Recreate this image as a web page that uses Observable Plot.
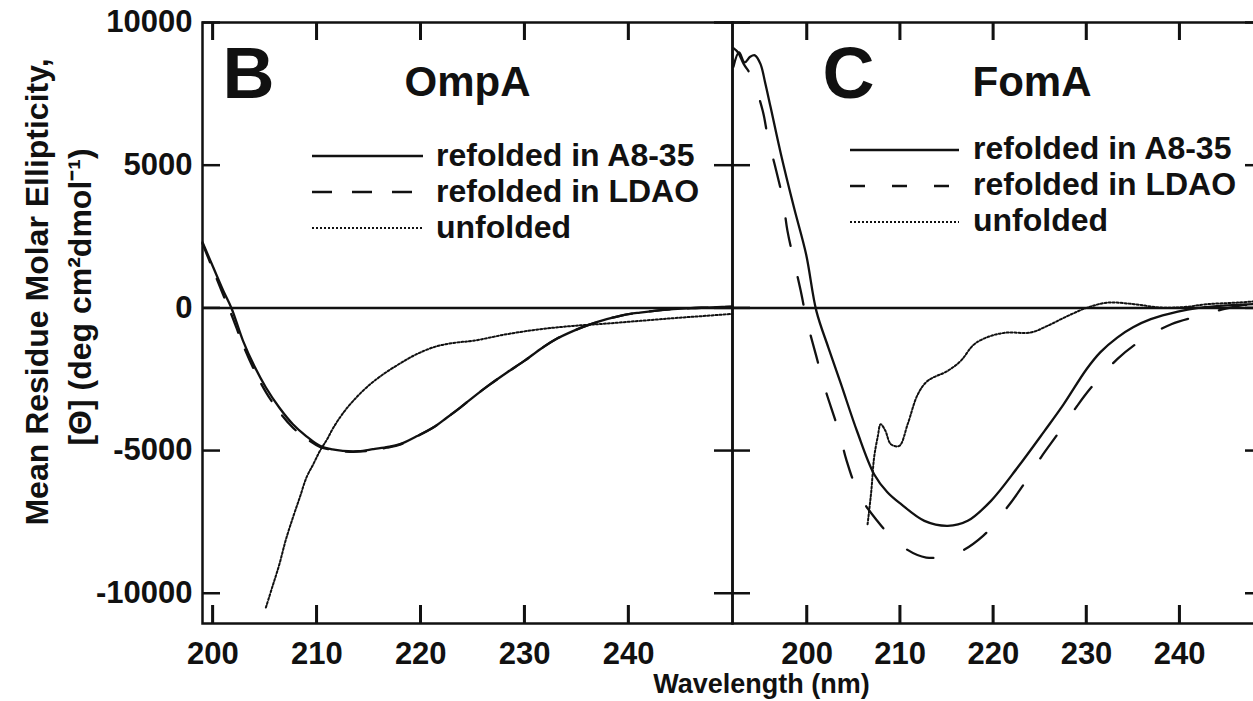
<!DOCTYPE html>
<html><head><meta charset="utf-8">
<script src="https://cdn.jsdelivr.net/npm/d3@7"></script>
<script src="https://cdn.jsdelivr.net/npm/@observablehq/plot@0.6"></script>
<style>
html,body{margin:0;padding:0;background:#fff;}
#wrap{position:relative;width:1253px;height:701px;overflow:hidden;background:#fff;}
#wrap svg{position:absolute;left:0;top:0;}
</style></head><body><div id="wrap"></div>
<script>
// ---------- data ----------
const yTicks = [-10000, -5000, 0, 5000, 10000];
const xTicks = [200, 210, 220, 230, 240];
const seriesNames = ["refolded in A8-35", "refolded in LDAO", "unfolded"];
const yLabel1 = "Mean Residue Molar Ellipticity,";
const yLabel2 = "[\u0398] (deg cm\u00B2dmol\u207B\u00B9)";
const xLabel = "Wavelength (nm)";

// Panel B: OmpA
const ompaA835Wl = [199.0, 200.0, 201.0, 201.8, 202.9, 204.0, 205.1, 206.4, 207.7, 209.0, 210.3, 211.5, 212.5, 214.0, 215.4, 216.7, 218.0, 219.6, 221.2, 222.5, 223.8, 225.0, 226.6, 228.3, 230.0, 231.5, 233.0, 234.7, 236.3, 237.9, 239.5, 241.1, 242.7, 244.3, 246.0, 247.5, 249.0, 250.0];
const ompaA835Val = [2300, 1450, 600, -20, -1156, -2050, -2790, -3500, -4077, -4500, -4835, -4960, -5010, -5020, -4953, -4880, -4777, -4500, -4193, -3850, -3493, -3142, -2700, -2266, -1850, -1448, -1100, -806, -580, -397, -250, -163, -95, -47, -10, 10, 30, 40];
const ompaLdaoWl = [199.0, 200.0, 201.0, 201.8, 202.9, 204.0, 205.1, 206.4, 207.7, 209.0, 210.3, 211.5, 212.5, 214.0, 215.4, 216.7, 218.0, 219.6, 221.2, 222.5, 223.8, 225.0, 226.6, 228.3, 230.0, 231.5, 233.0, 234.7, 236.3, 237.9, 239.5, 241.1, 242.7, 244.3, 246.0, 247.5, 249.0, 250.0];
const ompaLdaoVal = [2250, 1350, 450, -250, -1300, -2200, -2950, -3650, -4200, -4580, -4870, -4980, -5030, -5040, -4990, -4900, -4790, -4510, -4193, -3850, -3493, -3142, -2700, -2266, -1850, -1448, -1100, -806, -580, -397, -250, -163, -95, -47, -10, 10, 30, 40];
const ompaUnfWl = [205.1, 205.7, 206.4, 207.0, 207.7, 208.4, 209.0, 209.7, 210.3, 211.0, 211.6, 212.5, 213.5, 214.9, 216.4, 218.0, 219.6, 221.5, 223.4, 225.0, 228.3, 231.5, 234.7, 237.9, 241.1, 244.3, 247.0, 250.0];
const ompaUnfVal = [-10500, -9800, -8981, -8150, -7347, -6600, -5946, -5450, -5010, -4600, -4194, -3700, -3259, -2750, -2324, -1950, -1623, -1350, -1215, -1156, -922, -747, -631, -549, -455, -361, -290, -210];

// Panel C: FomA
const fomaA835Wl = [192.1, 192.7, 193.3, 193.9, 194.4, 195.0, 195.5, 196.1, 197.2, 198.6, 199.9, 201.0, 202.3, 203.65, 205.4, 207.2, 208.6, 210.1, 212.6, 215.1, 217.25, 219.75, 222.6, 225.5, 227.5, 230.0, 231.5, 233.3, 235.0, 236.9, 239.8, 242.0, 244.0, 246.0, 249.0];
const fomaA835Val = [8450, 8950, 8600, 8800, 8850, 8550, 7900, 7018, 5385, 3515, 1880, -105, -1400, -2674, -4350, -5828, -6450, -6879, -7463, -7638, -7463, -6762, -5596, -4310, -3400, -2150, -1550, -1040, -680, -396, -129, 0, 60, 100, 150];
const fomaLdaoWl = [192.1, 192.6, 193.2, 194.0, 195.25, 195.8, 196.7, 197.4, 197.9, 198.6, 199.4, 199.9, 201.0, 202.0, 203.0, 203.65, 204.2, 205.6, 207.4, 209.9, 212.8, 216.2, 218.9, 221.2, 223.15, 225.1, 226.9, 229.0, 230.5, 233.3, 235.8, 239.1, 242.1, 244.5, 246.5, 249.0];
const fomaLdaoVal = [9100, 8950, 8550, 8130, 6900, 5967, 4800, 3809, 2698, 1647, 480, -340, -1700, -2900, -3900, -4600, -5300, -6550, -7404, -8280, -8748, -8574, -7989, -7113, -6237, -5245, -4425, -3434, -2793, -1798, -1156, -572, -280, -60, 80, 150];
const fomaUnfWl = [206.5, 206.9, 207.2, 207.6, 207.9, 208.4, 209.0, 209.9, 210.8, 211.9, 212.95, 215.1, 216.5, 217.96, 219.75, 221.5, 224.0, 225.8, 228.0, 230.1, 232.3, 235.1, 238.0, 240.5, 243.0, 246.2, 249.0];
const fomaUnfVal = [-7580, -6412, -5245, -4500, -4077, -4300, -4777, -4835, -4077, -3024, -2558, -2207, -1857, -1272, -981, -865, -865, -631, -280, 10, 185, 130, 10, 30, 130, 185, 250];

// ---------- helpers ----------
const zip = (wl, v) => wl.map((x, i) => ({x, y: v[i]}));
const FONT = "'Liberation Sans', Arial, Helvetica, sans-serif";
const INK = "#111";
const H = 701, MT = 22, MB = 78;
const TL = 18;
const yDomain = [-11060, 10000];
const frameH = H - MT - MB;

function makePanel(o) {
  const common = {stroke: INK, strokeWidth: 2.5};
  const frameW = o.width - o.marginLeft - o.marginRight;
  const marks = [
    Plot.ruleY([0], common),
    Plot.line(o.solid, {x: "x", y: "y", stroke: INK, strokeWidth: 2.3, curve: "catmull-rom"}),
    Plot.line(o.dashed, {x: "x", y: "y", stroke: INK, strokeWidth: 2.3, strokeDasharray: o.dash, curve: "catmull-rom"}),
    Plot.line(o.dotted, {x: "x", y: "y", stroke: INK, strokeWidth: 2, strokeDasharray: "2,2", curve: "catmull-rom"}),
    Plot.ruleX(xTicks, {...common, insetTop: frameH - TL}),
    Plot.ruleX(xTicks, {...common, insetBottom: frameH - TL}),
    Plot.ruleY(yTicks, {...common, insetRight: frameW - TL}),
    Plot.ruleY(yTicks, {...common, insetLeft: frameW - TL}),
    Plot.frame(common),
    Plot.axisX(xTicks, {tickSize: 0, tickPadding: 18, tickFormat: d => String(d), label: null, fontSize: 31, fill: INK}),
    Plot.text([o.letter], {text: d => d, frameAnchor: "top-left", textAnchor: "start", lineAnchor: "middle", dx: o.letterDx, dy: 52, fontSize: 72, fontWeight: "bold", fill: INK}),
    Plot.text([o.title], {text: d => d, frameAnchor: "top-left", textAnchor: "start", lineAnchor: "middle", dx: o.titleDx, dy: 60, fontSize: 42, fontWeight: "bold", fill: INK}),
    ...(o.extra || [])
  ];
  return Plot.plot({
    width: o.width, height: H,
    marginLeft: o.marginLeft, marginRight: o.marginRight, marginTop: MT, marginBottom: MB,
    x: {domain: o.xDomain, axis: null},
    y: {domain: yDomain, axis: null},
    style: {fontFamily: FONT, fontWeight: "bold", fontSize: "31px", background: "transparent", overflow: "visible", maxWidth: "none"},
    marks
  });
}

const plotB = makePanel({
  width: 1253, marginLeft: 202, marginRight: 1253 - 732,
  xDomain: [199, 250],
  solid: zip(ompaA835Wl, ompaA835Val), dashed: zip(ompaLdaoWl, ompaLdaoVal), dotted: zip(ompaUnfWl, ompaUnfVal),
  dash: "20,18", letter: "B", title: "OmpA", letterDx: 20, titleDx: 202,
  extra: [
    Plot.axisY(yTicks, {tickSize: 0, tickPadding: 10, tickFormat: d => String(d), label: null, fontSize: 31, fill: INK}),
    Plot.text([yLabel1], {text: d => d, frameAnchor: "left", rotate: -90, textAnchor: "middle", lineAnchor: "middle", dx: -165, dy: -31, fontSize: 32, fontWeight: "bold", fill: INK}),
    Plot.text([yLabel2], {text: d => d, frameAnchor: "left", rotate: -90, textAnchor: "middle", lineAnchor: "middle", dx: -122, dy: -26, fontSize: 32, fontWeight: "bold", fill: INK})
  ]
});

const plotC = makePanel({
  width: 1270, marginLeft: 732, marginRight: 7,
  xDomain: [192, 249],
  solid: zip(fomaA835Wl, fomaA835Val), dashed: zip(fomaLdaoWl, fomaLdaoVal), dotted: zip(fomaUnfWl, fomaUnfVal),
  dash: "28,32", letter: "C", title: "FomA", letterDx: 90, titleDx: 240,
  extra: [
    Plot.text([xLabel], {text: d => d, frameAnchor: "bottom-left", textAnchor: "middle", lineAnchor: "middle", dx: 29, dy: 61, fontSize: 27, fontWeight: "bold", fill: INK})
  ]
});

const wrap = document.getElementById("wrap");
wrap.appendChild(plotB);
wrap.appendChild(plotC);

// ---------- overlay: inward x ticks positioned through Plot's own scales ----------
const overlay = d3.select(wrap).append("svg")
  .attr("width", 1253).attr("height", H)
  .style("position", "absolute").style("left", "0px").style("top", "0px").style("pointer-events", "none");
[plotB, plotC].forEach(p => {
  const sx = p.scale("x"), sy = p.scale("y");
  const yb = sy.apply(yDomain[0]), yt = sy.apply(yDomain[1]);
  xTicks.forEach(t => {
    const x = sx.apply(t);
    overlay.append("line").attr("x1", x).attr("x2", x).attr("y1", yb).attr("y2", yb - TL)
      .attr("stroke", INK).attr("stroke-width", 2.5);
    overlay.append("line").attr("x1", x).attr("x2", x).attr("y1", yt).attr("y2", yt + TL)
      .attr("stroke", INK).attr("stroke-width", 2.5);
  });
});

// ---------- legends ----------
function addLegend(svgEl, cfg) {
  const g = d3.select(svgEl).append("g")
    .attr("font-family", FONT).attr("font-weight", "bold").attr("font-size", 32)
    .attr("fill", INK).attr("text-anchor", "start").style("text-anchor", "start");
  seriesNames.forEach((name, i) => {
    const y = cfg.y0 + i * cfg.step;
    g.append("line").attr("x1", cfg.x1).attr("x2", cfg.x2).attr("y1", y).attr("y2", y)
      .attr("stroke", INK).attr("stroke-width", i === 2 ? 2 : 2.5)
      .attr("stroke-dasharray", i === 0 ? null : (i === 1 ? cfg.dash : "2,2"));
    g.append("text").attr("x", cfg.tx).attr("y", y + cfg.base)
      .attr("text-anchor", "start").style("text-anchor", "start").text(name);
  });
}
addLegend(plotB, {x1: 312, x2: 423, y0: 156, step: 36, tx: 436, base: 10, dash: "20,20"});
addLegend(plotC, {x1: 850, x2: 959, y0: 150, step: 36, tx: 973, base: 9, dash: "15,27"});
</script></body></html>
